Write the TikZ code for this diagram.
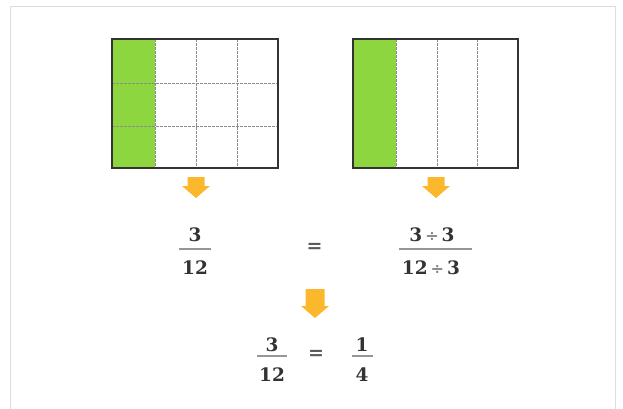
\documentclass[tikz,border=0pt]{standalone}
\usepackage{fontspec}
\setmainfont{DejaVu Serif}
\definecolor{leaf}{RGB}{141,214,63}
\definecolor{amber}{RGB}{252,184,44}
\definecolor{ink}{RGB}{51,51,51}
\definecolor{framegray}{RGB}{221,221,221}
\definecolor{gridgray}{RGB}{140,140,140}
\definecolor{bargray}{RGB}{150,150,150}
\newcommand{\dv}{\hspace{3pt}{\color{gray}\fontsize{16}{18}\selectfont ÷}\hspace{3pt}}
\begin{document}
\begin{tikzpicture}[x=1pt,y=-1pt,
  frame/.style={draw=framegray,line width=1.5pt},
  outline/.style={draw=ink,line width=1.4pt},
  gridline/.style={draw=gridgray,line width=0.8pt,dash pattern=on 2.5pt off 1.5pt},
  arrowshape/.style={fill=amber,draw=none},
  num/.style={font=\fontsize{18.5}{21}\selectfont\bfseries,text=ink,inner sep=0pt,anchor=center},
  fracbar/.style={draw=bargray,line width=1.3pt},
  eqsign/.style={font=\fontsize{19}{21}\selectfont\bfseries,text={rgb,255:red,90;green,90;blue,90},inner sep=0pt}]
\useasboundingbox (0,0) rectangle (623,408);
% frame (open at bottom)
\draw[frame] (10.5,420) -- (10.5,6.5) -- (615.5,6.5) -- (615.5,420);

% left rectangle: 4 columns x 3 rows
\fill[leaf] (112,39) rectangle (155,168);
\draw[gridline] (155,39) -- (155,168);
\draw[gridline] (196.5,39) -- (196.5,168);
\draw[gridline] (237,39) -- (237,168);
\draw[gridline] (112,83) -- (278,83);
\draw[gridline] (112,126) -- (278,126);
\draw[outline] (112,39) rectangle (278,168);

% right rectangle: 4 columns
\fill[leaf] (353,39) rectangle (396,168);
\draw[gridline] (396,39) -- (396,168);
\draw[gridline] (437,39) -- (437,168);
\draw[gridline] (477,39) -- (477,168);
\draw[outline] (353,39) rectangle (518,168);

% arrows
\fill[arrowshape] (187.5,177) -- (204.5,177) -- (204.5,186) -- (210,186) -- (196,198) -- (182,186) -- (187.5,186) -- cycle;
\fill[arrowshape] (427.5,177) -- (444.5,177) -- (444.5,186) -- (450,186) -- (436,198) -- (422,186) -- (427.5,186) -- cycle;
\fill[arrowshape] (305.5,289) -- (324.5,289) -- (324.5,306) -- (329,306) -- (315,318) -- (301,306) -- (305.5,306) -- cycle;

% first row of fractions
\node[num] (n1) at (195,235) {3};
\node[num] (d1) at (195,267.5) {12};
\draw[fracbar] (179,249) -- (211,249);
\node[eqsign] (eq1) at (314.5,247.5) {=};
\node[num] (n2) at (432,235) {3\dv 3};
\node[num] (d2) at (431,267.5) {12\dv 3};
\draw[fracbar] (399,249) -- (472,249);

% second row
\node[num] (n3) at (272,345) {3};
\node[num] (d3) at (272,374.5) {12};
\draw[fracbar] (257,356) -- (287,356);
\node[eqsign] (eq2) at (316,355) {=};
\node[num] (n4) at (362,345) {1};
\node[num] (d4) at (362,374.5) {4};
\draw[fracbar] (352,356) -- (373,356);
\end{tikzpicture}
\end{document}
